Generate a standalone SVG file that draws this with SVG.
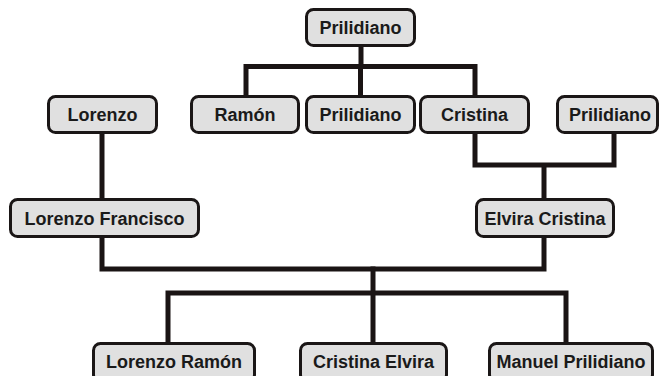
<svg xmlns="http://www.w3.org/2000/svg" width="659" height="376" viewBox="0 0 659 376">
<style>
.box{fill:#e0e0e0;stroke:#1a1616;stroke-width:3}
.t{font-family:"Liberation Sans",Arial,sans-serif;font-weight:bold;font-size:18px;fill:#1a1a1a;text-anchor:middle}
.c{fill:none;stroke:#1a1414;stroke-width:5;stroke-linecap:square;stroke-linejoin:miter}
</style>
<rect width="659" height="376" fill="#ffffff"/>
<g id="connectors">
<path class="c" d="M361 47V66.5M246 66.5H475M246 66.5V94M360.5 66.5V94M475 66.5V94"/>
<path class="c" d="M102 134V197"/>
<path class="c" d="M475 134V165H614V134M544 165V197"/>
<path class="c" d="M102 238V269H544V238"/>
<path class="c" d="M373 269V341M168 293H566M168 293V341M566 293V341"/>
</g>
<g id="n1"><rect class="box" x="306.5" y="9.5" width="108" height="36" rx="7"/><text class="t" x="360.5" y="34">Prilidiano</text></g>
<g id="n2"><rect class="box" x="48.5" y="96.5" width="108" height="36" rx="7"/><text class="t" x="102.5" y="121">Lorenzo</text></g>
<g id="n3"><rect class="box" x="191.5" y="96.5" width="107" height="36" rx="7"/><text class="t" x="245" y="121">Ramón</text></g>
<g id="n4"><rect class="box" x="306.5" y="96.5" width="108" height="36" rx="7"/><text class="t" x="360.5" y="121">Prilidiano</text></g>
<g id="n5"><rect class="box" x="420.5" y="96.5" width="108" height="36" rx="7"/><text class="t" x="474.5" y="121">Cristina</text></g>
<g id="n6"><rect class="box" x="557.5" y="96.5" width="100" height="36" rx="7"/><text class="t" x="610" y="121">Prilidiano</text></g>
<g id="n7"><rect class="box" x="10.5" y="199.5" width="188" height="37" rx="7"/><text class="t" x="104.5" y="224.5">Lorenzo Francisco</text></g>
<g id="n8"><rect class="box" x="476.5" y="199.5" width="137" height="37" rx="7"/><text class="t" x="545" y="224.5">Elvira Cristina</text></g>
<g id="n9"><rect class="box" x="93.5" y="343.5" width="161" height="38" rx="7"/><text class="t" x="174" y="368">Lorenzo Ramón</text></g>
<g id="n10"><rect class="box" x="300.5" y="343.5" width="146" height="38" rx="7"/><text class="t" x="373.5" y="368">Cristina Elvira</text></g>
<g id="n11"><rect class="box" x="489.5" y="343.5" width="163" height="38" rx="7"/><text class="t" x="571" y="368">Manuel Prilidiano</text></g>
</svg>
